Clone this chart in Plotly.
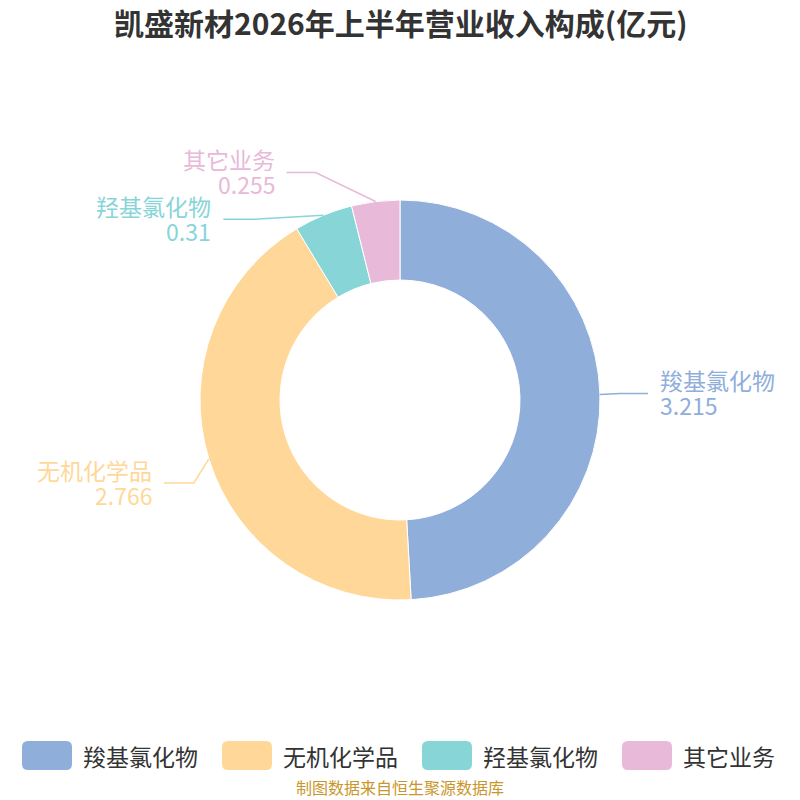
import math
import plotly.graph_objects as go

categories = ["羧基氯化物", "无机化学品", "羟基氯化物", "其它业务"]
values = [3.215, 2.766, 0.31, 0.255]
value_labels = ["3.215", "2.766", "0.31", "0.255"]
colors = ["#8FAEDA", "#FFD899", "#88D5D8", "#E8B9D8"]

title = "凯盛新材2026年上半年营业收入构成(亿元)"
source = "制图数据来自恒生聚源数据库"

W = H = 800
CX, CY, R = 400, 400, 200
FONT = "Noto Sans CJK SC, Noto Sans, sans-serif"

fig = go.Figure()
fig.add_trace(go.Pie(
    labels=categories, values=values, hole=0.6, sort=False,
    direction="clockwise", rotation=0,
    marker=dict(colors=colors, line=dict(color="white", width=1)),
    textinfo="none", hoverinfo="label+value", showlegend=False,
    domain=dict(x=[0.25, 0.75], y=[0.25, 0.75]),
))

def px(x):
    return x / W

def py(y):
    return 1 - y / H

# label line routing (pixel layout): (elbow x offset from start, line y shift from start, length2)
line_layout = [(20, -1, 28), (-15, 24, 30), (-70, 4, 30), (-60, -29, 29)]

shapes = []
annotations = []
total = sum(values)
cum = 0.0
for i, v in enumerate(values):
    mid = (cum + v / 2) / total * 2 * math.pi
    cum += v
    sx = CX + R * math.sin(mid)
    sy = CY - R * math.cos(mid)
    dx, dy, l2 = line_layout[i]
    ex, ey = sx + dx, sy + dy
    right = math.sin(mid) > 0
    endx = ex + l2 if right else ex - l2
    shapes.append(dict(
        type="path", xref="paper", yref="paper",
        path=f"M {px(sx)} {py(sy)} L {px(ex)} {py(ey)} L {px(endx)} {py(ey)}",
        line=dict(color=colors[i], width=1.5),
    ))
    tx = endx + 10 if right else endx - 10
    anchor = "left" if right else "right"
    annotations.append(dict(
        x=px(tx), y=py(ey - 13), xref="paper", yref="paper",
        text=categories[i], showarrow=False, xanchor=anchor, yanchor="middle",
        font=dict(family=FONT, size=23, color=colors[i]),
    ))
    annotations.append(dict(
        x=px(tx), y=py(ey + 12), xref="paper", yref="paper",
        text=value_labels[i], showarrow=False, xanchor=anchor, yanchor="middle",
        font=dict(family=FONT, size=23, color=colors[i]),
    ))

# custom legend
leg_x0 = 22
leg_step = 200
for i, name in enumerate(categories):
    x0 = leg_x0 + i * leg_step
    x1 = x0 + 50
    y0, y1 = 741, 770
    r = 6
    path = (f"M {px(x0 + r)} {py(y0)} L {px(x1 - r)} {py(y0)} "
            f"Q {px(x1)} {py(y0)} {px(x1)} {py(y0 + r)} L {px(x1)} {py(y1 - r)} "
            f"Q {px(x1)} {py(y1)} {px(x1 - r)} {py(y1)} L {px(x0 + r)} {py(y1)} "
            f"Q {px(x0)} {py(y1)} {px(x0)} {py(y1 - r)} L {px(x0)} {py(y0 + r)} "
            f"Q {px(x0)} {py(y0)} {px(x0 + r)} {py(y0)} Z")
    shapes.append(dict(type="path", xref="paper", yref="paper", path=path,
                       fillcolor=colors[i], line=dict(width=0)))
    annotations.append(dict(
        x=px(x1 + 9), y=py((y0 + y1) / 2), xref="paper", yref="paper",
        text=name, showarrow=False, xanchor="left", yanchor="middle",
        font=dict(family=FONT, size=23, color="#333333"),
    ))

annotations.append(dict(
    x=0.5, y=py(787), xref="paper", yref="paper", text=source, showarrow=False,
    xanchor="center", yanchor="middle",
    font=dict(family=FONT, size=16, color="#C9962B"),
))
annotations.append(dict(
    x=0.5, y=py(22), xref="paper", yref="paper", text=f"<b>{title}</b>", showarrow=False,
    xanchor="center", yanchor="middle",
    font=dict(family=FONT, size=30, color="#333333"),
))

fig.update_layout(
    width=W, height=H, margin=dict(l=0, r=0, t=0, b=0),
    paper_bgcolor="white", plot_bgcolor="white",
    shapes=shapes, annotations=annotations, showlegend=False,
)
fig.write_html("out.html", config={"displayModeBar": False},
               post_script="document.body.style.margin='0px';")
